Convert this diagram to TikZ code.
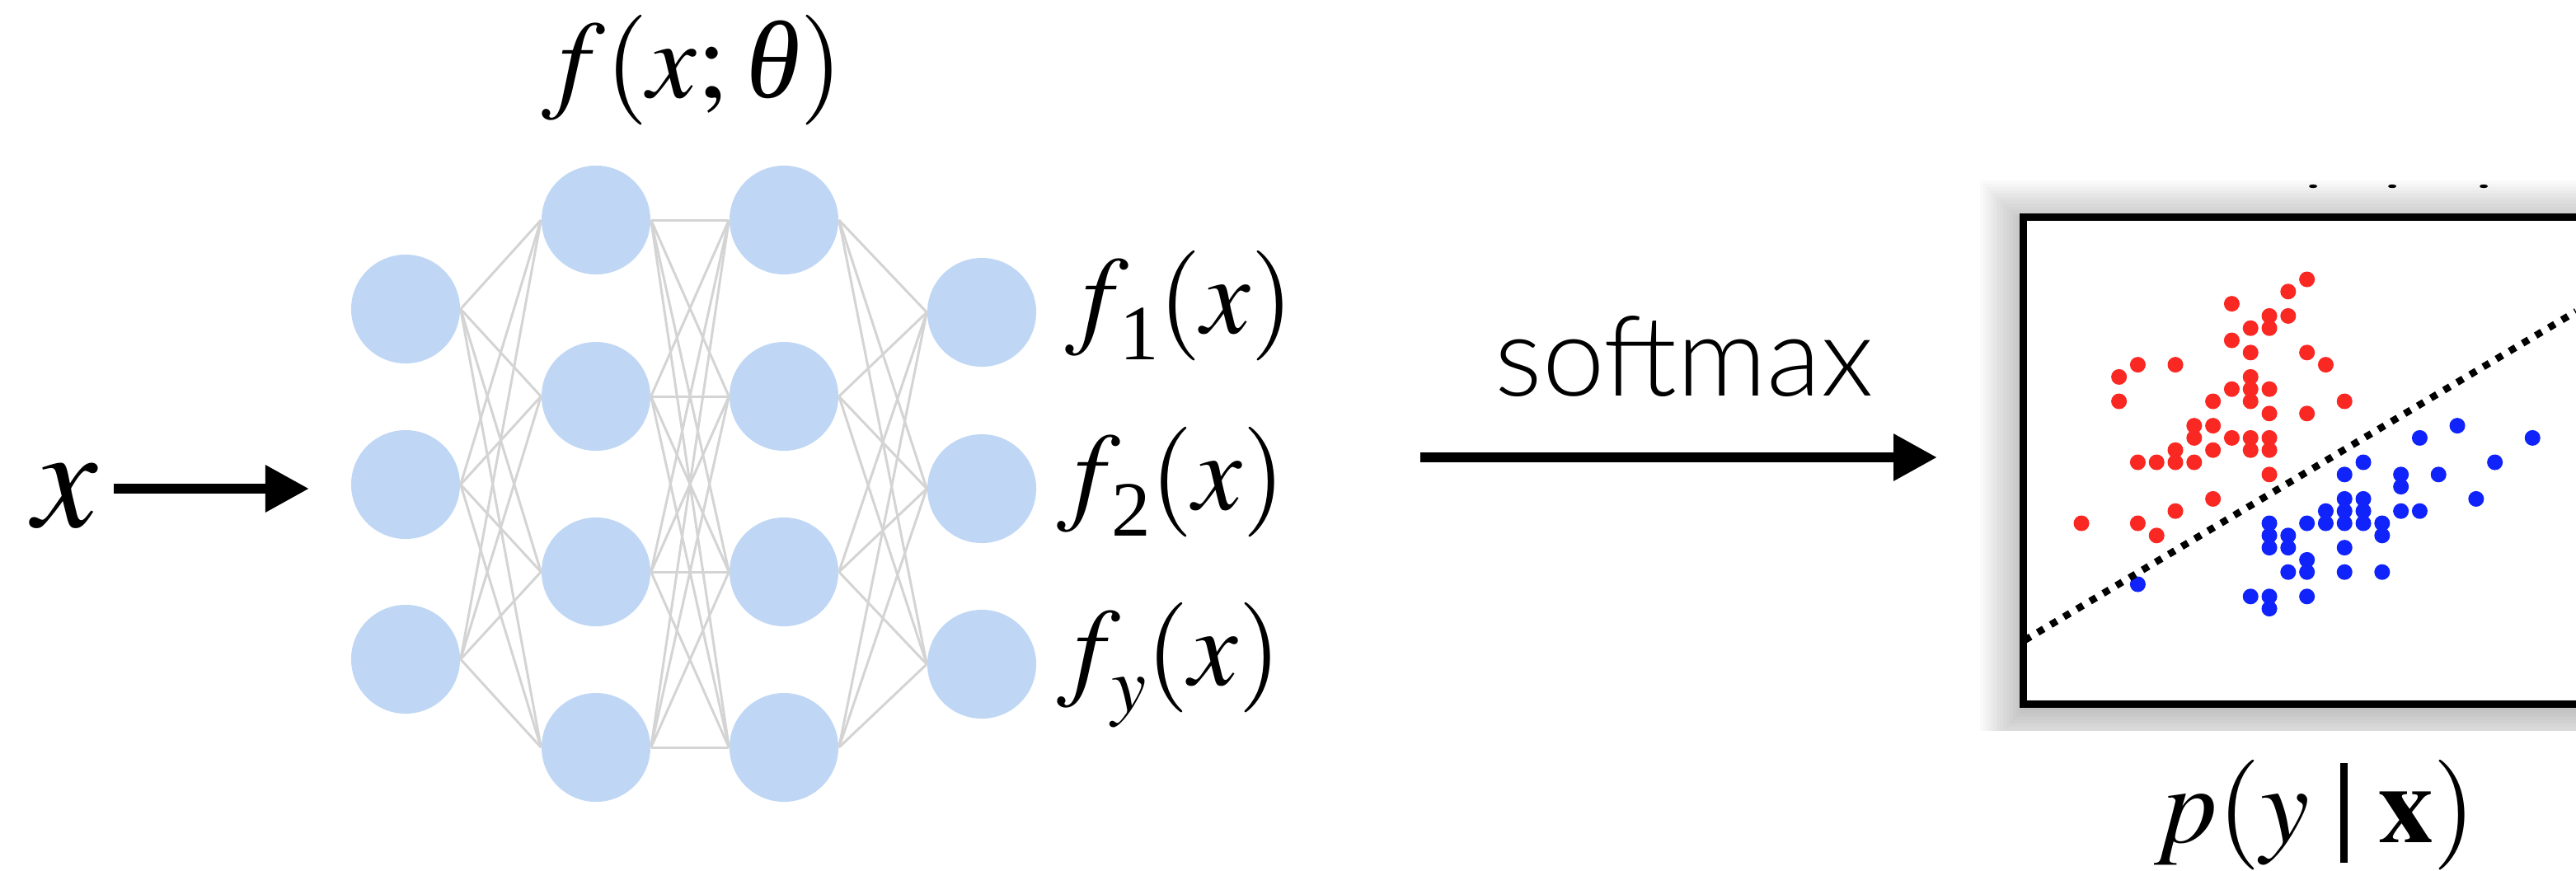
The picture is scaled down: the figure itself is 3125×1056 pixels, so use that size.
\documentclass[tikz,border=0pt]{standalone}
\usepackage[no-math]{fontspec}
\usepackage{mathptmx}
\setmainfont{Liberation Serif}
\newfontfamily\softfont{Lato Light}
\usetikzlibrary{arrows.meta}
\definecolor{nodeblue}{RGB}{191,215,245}
\definecolor{edgegray}{RGB}{212,212,212}
\definecolor{dotred}{RGB}{250,40,35}
\definecolor{dotblue}{RGB}{15,35,250}
\newcommand{\lsub}[1]{\raisebox{-0.24em}{\fontsize{27pt}{28pt}\selectfont #1}}
\begin{document}
\begin{tikzpicture}[x=0.01cm,y=-0.01cm,
  neuron/.style={circle, fill=nodeblue, minimum size=1.32cm, inner sep=0pt},
  conn/.style={draw=edgegray, line width=0.03cm},
  bigarrow/.style={line width=0.125cm, -{Triangle[length=0.53cm,width=0.54cm]}},
  mathlbl/.style={inner sep=0pt, font=\fontsize{38pt}{40pt}\selectfont},
  reddot/.style={fill=dotred},
  bluedot/.style={fill=dotblue}]
\useasboundingbox (0,0) rectangle (3125,1056);

% network nodes
\foreach \n/\y in {1/375,2/588,3/800} \node[neuron] (i\n) at (492,\y) {};
\foreach \n/\y in {1/267,2/481,3/694,4/907} {
  \node[neuron] (a\n) at (723,\y) {};
  \node[neuron] (b\n) at (951,\y) {};
}
\foreach \n/\y in {1/379,2/593,3/806} \node[neuron] (o\n) at (1191,\y) {};

% connections
\foreach \s in {1,2,3} \foreach \t in {1,...,4} \draw[conn] (i\s.east) -- (a\t.west);
\foreach \s in {1,...,4} \foreach \t in {1,...,4} \draw[conn] (a\s.east) -- (b\t.west);
\foreach \s in {1,...,4} \foreach \t in {1,2,3} \draw[conn] (b\s.east) -- (o\t.west);

% labels
\node[mathlbl, anchor=base] (ftheta) at (840,118)
  {$f(x;\mkern1mu\textit{θ})$};
\node[mathlbl, anchor=base west] (f1) at (1292,404) {$f\mkern-1.5mu\lsub{1}(x)$};
\node[mathlbl, anchor=base west] (f2) at (1282,618) {$f\mkern-1.5mu\lsub{2}(x)$};
\node[mathlbl, anchor=base west] (fy) at (1282,831) {$f\mkern-1.5mu\lsub{$y$}(x)$};

\node[inner sep=0pt, font=\fontsize{50pt}{52pt}\selectfont, anchor=base] (xin) at (80,639) {$x$};
\coordinate (xs) at (138,593);
\coordinate (xe) at (375,593);
\draw[bigarrow] (xs) -- (xe);

\node[inner sep=0pt, font=\softfont\fontsize{38.5pt}{40pt}\selectfont, anchor=base] (sm) at (2043,480) {softmax};
\coordinate (ss) at (1723,555);
\coordinate (se) at (2350,555);
\draw[bigarrow] (ss) -- (se);

% scatter plot
\begin{scope}
  \clip (2380,195) rectangle (3125,886);
  \foreach \k in {0,...,13}
    \fill[black,opacity=0.02] (2454-4*\k,271-4*\k) rectangle (3200,862+4*\k);
  \fill[white] (2454,263) rectangle (3200,854);
  \begin{scope}
    \clip (2454,263) rectangle (3125,854);
    \foreach \i/\j in {12/0,11/1,8/2,10/3,11/3,9/4,10/4,8/5,9/6,12/6,3/7,5/7,13/7,2/8,9/8,8/9,9/9,10/9,2/10,7/10,9/10,14/10,10/11,12/11,6/12,7/12,6/13,8/13,9/13,10/13,5/14,7/14,9/14,10/14,3/15,4/15,5/15,6/15,10/16,7/18,5/19,0/20,3/20,4/21}
      \fill[reddot] (2525+22.8*\i,339+14.8*\j) circle[radius=0.095cm];
    \foreach \i/\j in {20/12,18/13,24/13,15/15,22/15,14/16,17/16,19/16,17/17,14/18,15/18,21/18,13/19,14/19,15/19,17/19,18/19,10/20,12/20,13/20,14/20,15/20,16/20,10/21,11/21,16/21,10/22,11/22,14/22,12/23,11/24,12/24,14/24,16/24,3/25,9/26,10/26,12/26,10/27}
      \fill[bluedot] (2525+22.8*\i,339+14.8*\j) circle[radius=0.095cm];
    \draw[line width=0.085cm, dash pattern=on 0.085cm off 0.1cm] (2456,777) -- (3125,378);
  \end{scope}
  \draw[line width=0.09cm] (3200,263) -- (2454,263) -- (2454,854) -- (3200,854);
  \foreach \tx in {2806,2902,3013}
    \fill[black] (\tx,226) ellipse[x radius=0.05cm, y radius=0.022cm];
\end{scope}

\node[mathlbl, anchor=base west] (pyx) at (2613,1022)
  {$p(y\mkern5mu\rule[-0.19em]{0.068em}{0.91em}\mkern5mu\mathbf{x})$};
\end{tikzpicture}
\end{document}
